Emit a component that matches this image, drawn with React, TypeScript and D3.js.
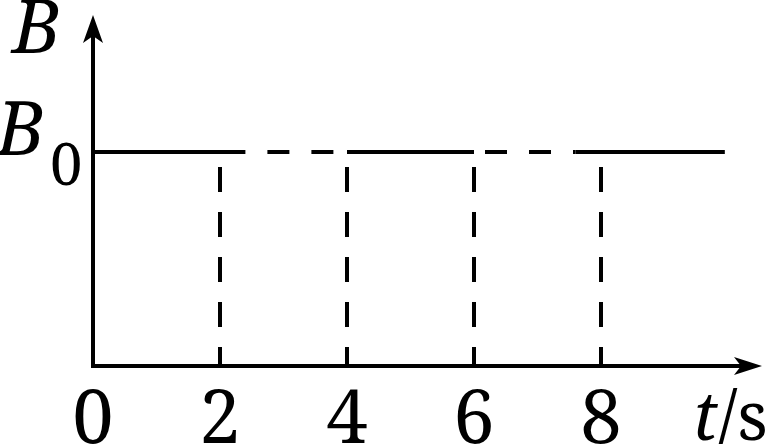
import React from "react";
import * as d3 from "d3";

const xTicks = [0, 2, 4, 6, 8];
const dropTimes = [2, 4, 6, 8];
const B0 = 1;
const solidSegments: [number, number][] = [[0, 2.4], [4, 6], [7.6, 9.95]];
const dashedSegments: [number, number][] = [[2.4, 4], [6, 7.6]];
const dashedOffsets = [22, 33];

const W = 769;
const H = 444;
const FONT = "'Noto Serif', 'DejaVu Serif', 'Liberation Serif', serif";

export default function App() {
  const x = d3.scaleLinear().domain([0, 10]).range([93, 728]);
  const y = d3.scaleLinear().domain([0, B0]).range([366, 152]);
  const line = d3.line<[number, number]>().x((d) => x(d[0])).y((d) => y(d[1]));
  const x0 = x(0);
  const y0 = y(0);
  const xTip = 762;
  const yTip = 15;
  const txt = (size: number, italic = false) => ({ fontFamily: FONT, fontSize: size, fontStyle: italic ? "italic" : "normal" });
  return (
    <svg width={W} height={H} style={{ position: "absolute", left: 0, top: 0, background: "#fff" }}>
      <rect x={0} y={0} width={W} height={H} fill="#fff" />
      <line x1={x0 - 2} y1={y0} x2={xTip - 10} y2={y0} stroke="#000" strokeWidth={4} />
      <line x1={x0} y1={y0 + 2} x2={x0} y2={yTip + 10} stroke="#000" strokeWidth={4} />
      <path d={`M${xTip},${y0} L${xTip - 28},${y0 - 9} L${xTip - 21},${y0} L${xTip - 28},${y0 + 9} Z`} fill="#000" />
      <path d={`M${x0},${yTip} L${x0 - 10},${yTip + 28} L${x0},${yTip + 21} L${x0 + 10},${yTip + 28} Z`} fill="#000" />
      {solidSegments.map((s, i) => (
        <path key={"s" + i} d={line([[s[0], B0], [s[1], B0]]) || ""} stroke="#000" strokeWidth={4} fill="none" />
      ))}
      {dashedSegments.map((s, i) => (
        <path key={"d" + i} d={line([[s[0], B0], [s[1], B0]]) || ""} stroke="#000" strokeWidth={4} fill="none"
          strokeDasharray="22,22" strokeDashoffset={dashedOffsets[i]} />
      ))}
      {dropTimes.map((t) => (
        <path key={"v" + t} d={line([[t, 0], [t, B0]]) || ""} stroke="#000" strokeWidth={4} fill="none"
          strokeDasharray="25,20" strokeDashoffset={6} />
      ))}
      {xTicks.map((t) => (
        <text key={"t" + t} x={x(t)} y={443} textAnchor="middle" style={txt(74)} fill="#000">{t}</text>
      ))}
      <text x={768} y={440} textAnchor="end" style={txt(68)} fill="#000">
        <tspan style={{ fontStyle: "italic" }}>t</tspan>/s
      </text>
      <text x={12} y={53} style={txt(74, true)} fill="#000">B</text>
      <text x={-4} y={155} style={txt(74, true)} fill="#000">B</text>
      <text x={50} y={185} style={txt(58)} fill="#000">0</text>
    </svg>
  );
}
